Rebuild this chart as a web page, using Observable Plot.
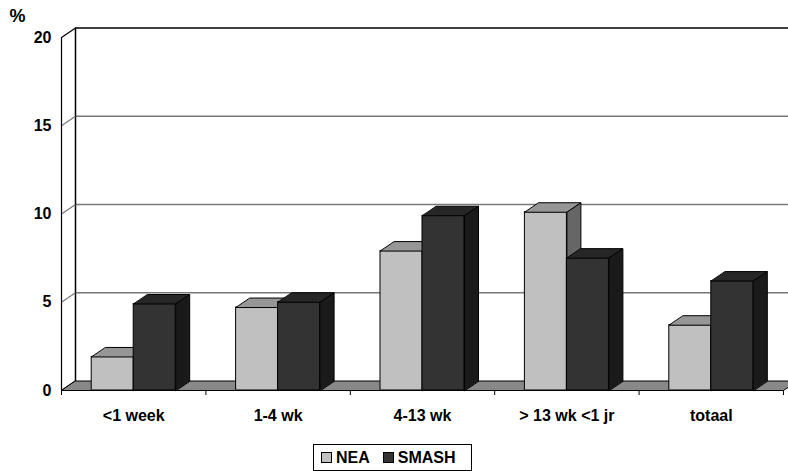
<!DOCTYPE html>
<html>
<head>
<meta charset="utf-8">
<script src="https://cdn.jsdelivr.net/npm/d3@7"></script>
<script src="https://cdn.jsdelivr.net/npm/@observablehq/plot@0.6"></script>
<style>
  html, body { margin: 0; padding: 0; background: #fff; overflow: hidden; }
  body { position: relative; width: 788px; height: 471px; font-family: "Liberation Sans", Arial, sans-serif; }
  #legend {
    position: absolute; left: 313px; top: 444px; width: 159px; height: 27px; box-sizing: border-box;
    border: 1px solid #000; display: flex; align-items: center; padding-left: 7px;
    font-weight: bold; font-size: 16px; color: #000;
  }
  #legend .sw { width: 9px; height: 9px; border: 1px solid #000; margin-right: 4px; }
  #legend .item { display: flex; align-items: center; margin-right: 13px; }
</style>
</head>
<body>
<div id="chart"></div>
<div id="legend"></div>
<script>
// ---- data ----
const categories = ["<1 week", "1-4 wk", "4-13 wk", "> 13 wk <1 jr", "totaal"];
const nea = [1.9, 4.7, 7.9, 10.1, 3.7];
const smash = [4.9, 5.0, 9.9, 7.5, 6.2];
const seriesNames = ["NEA", "SMASH"];
const yTicks = [0, 5, 10, 15, 20];

// ---- layout ----
const W = 788, H = 440;
const ML = 61, MR = 5, MT = 37, MB = 50;
const nCat = categories.length;
const yMax = d3.max(yTicks);
const pxX = (W - ML - MR) / nCat;
const pxY = (H - MT - MB) / yMax;
const DX = 14 / pxX, DY = 9.5 / pxY, BW = 42 / pxX;

const colors = {
  NEA: {front: "#c0c0c0", top: "#969696", side: "#666666"},
  SMASH: {front: "#333333", top: "#262626", side: "#1a1a1a"}
};

function bars(values, name, offset) {
  return values.map((v, i) => {
    const x0 = i + 0.5 + offset, x1 = x0 + BW;
    return {name, i, v, x0, x1};
  });
}
const barsN = bars(nea, "NEA", -BW);
const barsS = bars(smash, "SMASH", 0);

function topFace(b) {
  return [[b.x0, b.v], [b.x1, b.v], [b.x1 + DX, b.v + DY], [b.x0 + DX, b.v + DY]].map(p => ({k: b.i, x: p[0], y: p[1]}));
}
function sideFace(b) {
  return [[b.x1, 0], [b.x1, b.v], [b.x1 + DX, b.v + DY], [b.x1 + DX, DY]].map(p => ({k: b.i, x: p[0], y: p[1]}));
}

const floor = [[0, 0], [nCat, 0], [nCat + DX, DY], [DX, DY]].map(p => ({x: p[0], y: p[1]}));
const backWall = [[DX, DY], [DX, yMax + DY], [nCat + DX, yMax + DY]].map(p => ({x: p[0], y: p[1]}));
const gridVals = yTicks.filter(t => t > 0 && t < yMax);

function barMarks(bs, name) {
  const c = colors[name];
  return [
    Plot.rect(bs, {x1: "x0", x2: "x1", y1: 0, y2: "v", fill: c.front, stroke: "#000", strokeWidth: 1}),
    Plot.line(bs.flatMap(topFace), {x: "x", y: "y", z: "k", fill: c.top, stroke: "#000", strokeWidth: 1, curve: "linear-closed", strokeLinejoin: "miter"}),
    Plot.line(bs.flatMap(sideFace), {x: "x", y: "y", z: "k", fill: c.side, stroke: "#000", strokeWidth: 1, curve: "linear-closed", strokeLinejoin: "miter"})
  ];
}

const chart = Plot.plot({
  width: W, height: H,
  marginLeft: ML, marginRight: MR, marginTop: MT, marginBottom: MB,
  x: {type: "linear", domain: [0, nCat], axis: null},
  y: {domain: [0, yMax], axis: null},
  style: {fontFamily: "'Liberation Sans', Arial, sans-serif", fontSize: "16px", fontWeight: "bold", color: "#000", background: "#fff"},
  marks: [
    // back wall gridlines
    Plot.ruleY(gridVals, {y: d => d + DY, x1: DX, x2: nCat + DX, stroke: "#777", strokeWidth: 1.5}),
    Plot.line(backWall, {x: "x", y: "y", stroke: "#000", strokeWidth: 1.5}),
    // left wall diagonals
    Plot.link(yTicks, {x1: 0, y1: d => d, x2: DX, y2: d => d + DY, stroke: d => (d === 0 || d === yMax) ? "#000" : "#777", strokeWidth: 1.2}),
    // floor
    Plot.line(floor, {x: "x", y: "y", fill: "#888888", stroke: "#000", strokeWidth: 1, curve: "linear-closed"}),
    // front y axis line
    Plot.ruleX([0], {y1: 0, y2: yMax, stroke: "#000", strokeWidth: 1.2}),
    // x ticks
    Plot.ruleX(d3.range(nCat + 1), {y1: 0, y2: -5 / pxY, stroke: "#000", strokeWidth: 1}),
    Plot.axisY({ticks: yTicks, tickSize: 4, tickPadding: 6, fontSize: 16, fontWeight: "bold", fill: "#000", stroke: null}),
    ...barMarks(barsN, "NEA"),
    ...barMarks(barsS, "SMASH"),
    // category labels
    Plot.text(categories, {x: (d, i) => i + 0.5, y: 0, dy: 25, text: d => d, fontSize: 16, fontWeight: "bold", fill: "#000"}),
    // unit label
    Plot.text(["%"], {frameAnchor: "top-left", dx: -52, dy: -28, text: d => d, fontSize: 18, fontWeight: "bold", fill: "#000"})
  ]
});
document.getElementById("chart").appendChild(chart);

// legend
const leg = document.getElementById("legend");
seriesNames.forEach(n => {
  const item = document.createElement("div");
  item.className = "item";
  const sw = document.createElement("div");
  sw.className = "sw";
  sw.style.background = colors[n].front;
  const t = document.createElement("span");
  t.textContent = n;
  item.appendChild(sw); item.appendChild(t);
  leg.appendChild(item);
});
</script>
</body>
</html>
